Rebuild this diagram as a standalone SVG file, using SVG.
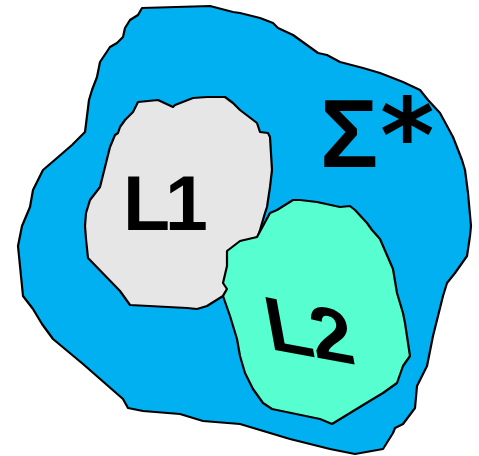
<svg xmlns="http://www.w3.org/2000/svg" width="479" height="456" viewBox="0 0 479 456">
<style>
.blob{stroke:#000;stroke-width:2.2;stroke-linejoin:round}
.lbl{font-family:"Liberation Sans",Arial,sans-serif;font-weight:bold;fill:#000}
</style>
<rect width="479" height="456" fill="#fff"/>
<g id="sigma">
<path class="blob" fill="#00B0F0" d="M142,8 L210,6 L233,12 L240,13 L260,18 L273,23 L278,28 L293,35 L318,53 L327,55 L340,62 L363,68 L380,73 L403,82 L420,90 L428,100 L440,113 L453,137 L462,160 L465,170 L468,193 L471,226 L470,236 L467,256 L455,273 L447,283 L443,296 L438,316 L433,336 L427,366 L417,386 L415,408 L403,424 L395,428 L393,433 L383,449 L355,454 L330,449 L290,439 L270,433 L240,424 L203,421 L180,414 L143,411 L128,408 L123,399 L83,364 L53,339 L42,324 L33,309 L23,296 L18,246 L22,226 L30,207 L33,190 L43,170 L57,158 L72,145 L82,135 L85,132 L89,100 L92,90 L97,77 L100,62 L110,47 L117,43 L123,37 L125,28 L130,20 L138,15 Z"/>
<text class="lbl" x="320" y="167" font-size="97">Σ<tspan x="380" y="172" font-family="'DejaVu Sans',sans-serif" font-size="104">*</tspan></text>
</g>
<g id="L1">
<path class="blob" fill="#E6E6E6" d="M138,102 L158,100 L173,107 L175,105 L193,98 L207,97 L225,97 L233,103 L240,110 L257,123 L260,132 L268,133 L270,137 L272,170 L270,187 L267,207 L265,213 L260,230 L258,236 L245,260 L223,296 L207,306 L197,309 L187,308 L130,305 L125,298 L120,291 L88,258 L86,239 L85,226 L86,213 L90,200 L100,187 L105,167 L110,147 L115,135 L118,133 L120,127 L125,120 L133,112 Z"/>
<text class="lbl" x="123" y="230" font-size="77" letter-spacing="-5">L1</text>
</g>
<g id="L2">
<path class="blob" fill="#57FFD0" d="M293,200 L300,200 L317,202 L340,207 L350,206 L355,210 L367,223 L372,230 L380,239 L393,269 L397,293 L403,313 L405,323 L410,356 L403,366 L397,383 L383,393 L373,399 L350,413 L332,424 L320,419 L272,409 L263,403 L253,389 L245,373 L240,356 L237,339 L230,316 L223,296 L227,289 L223,283 L227,266 L227,251 L240,241 L257,237 L270,213 L277,210 Z"/>
<text class="lbl" font-size="78" letter-spacing="-2" transform="matrix(0.985,0.182,0.18,0.985,270,349)">L2</text>
</g>
<g id="connectors"/>
</svg>
